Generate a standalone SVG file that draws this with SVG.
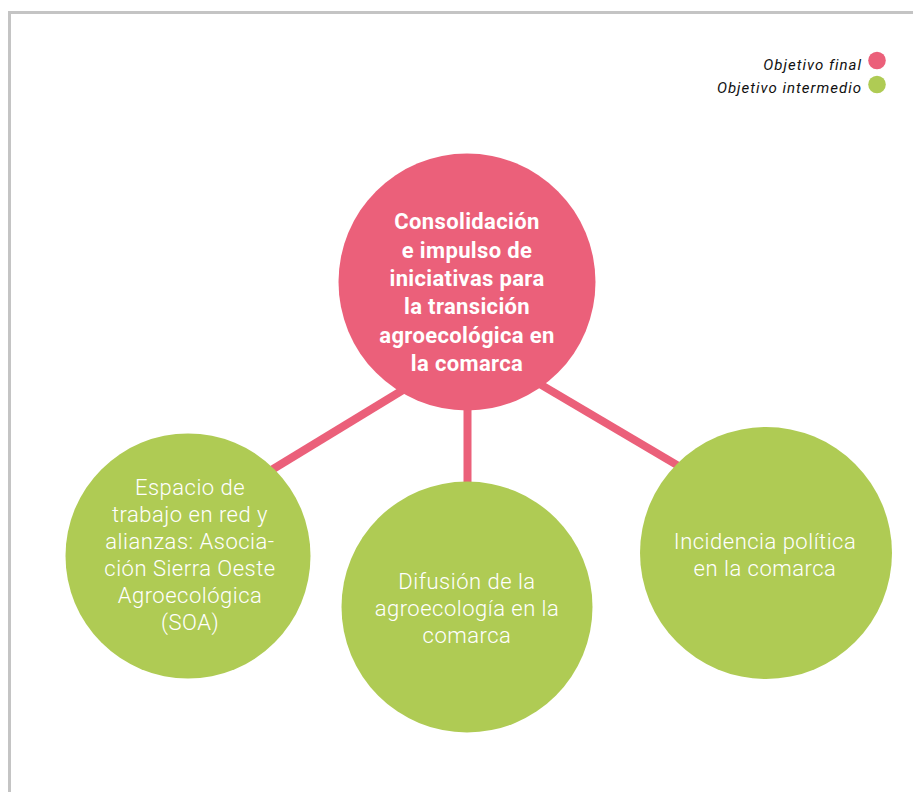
<svg xmlns="http://www.w3.org/2000/svg" width="913" height="792" viewBox="0 0 913 792">
<style>
.frame{fill:none;stroke:#c4c4c4;stroke-width:3}
.pink{fill:#eb607a}
.green{fill:#afcb54}
.conn{stroke:#eb607a;stroke-width:8;fill:none}
.leg{font-family:Roboto,"Liberation Sans",sans-serif;font-style:italic;font-size:15px;letter-spacing:1px;fill:#111;text-anchor:end}
.tb{font-family:Roboto,"Liberation Sans",sans-serif;font-weight:700;font-size:22px;letter-spacing:0.35px;fill:#fff;text-anchor:middle}
.tl{font-family:Roboto,"Liberation Sans",sans-serif;font-weight:300;font-size:22px;letter-spacing:0.5px;fill:#fff;text-anchor:middle}
</style>
<rect width="913" height="792" fill="#fff"/>
<path class="frame" d="M9.5,792 V12.5 H913"/>
<g id="legend">
<text class="leg" x="862" y="70">Objetivo final</text>
<circle class="pink" cx="877" cy="60.5" r="8.8"/>
<text class="leg" x="862" y="93">Objetivo intermedio</text>
<circle class="green" cx="877" cy="84.5" r="8.8"/>
</g>
<g id="connectors">
<line class="conn" x1="260" y1="477" x2="430" y2="373.5"/>
<line class="conn" x1="467.5" y1="380" x2="467.5" y2="500"/>
<line class="conn" x1="520" y1="372.4" x2="700" y2="478.6"/>
</g>
<g id="final">
<circle class="pink" cx="467" cy="282" r="128.5"/>
<text class="tb" x="467" y="229">Consolidación</text>
<text class="tb" x="467" y="257.5">e impulso de</text>
<text class="tb" x="467" y="286">iniciativas para</text>
<text class="tb" x="467" y="314">la transición</text>
<text class="tb" x="467" y="342.5">agroecológica en</text>
<text class="tb" x="467" y="371">la comarca</text>
</g>
<g id="espacio">
<circle class="green" cx="188" cy="556" r="122.5"/>
<text class="tl" x="190" y="495">Espacio de</text>
<text class="tl" x="190" y="522">trabajo en red y</text>
<text class="tl" x="190" y="549">alianzas: Asocia-</text>
<text class="tl" x="190" y="576">ción Sierra Oeste</text>
<text class="tl" x="190" y="603">Agroecológica</text>
<text class="tl" x="190" y="630">(SOA)</text>
</g>
<g id="difusion">
<circle class="green" cx="467" cy="607" r="125.5"/>
<text class="tl" x="467" y="589">Difusión de la</text>
<text class="tl" x="467" y="616">agroecología en la</text>
<text class="tl" x="467" y="643">comarca</text>
</g>
<g id="incidencia">
<circle class="green" cx="766" cy="553" r="126"/>
<text class="tl" x="765" y="549">Incidencia política</text>
<text class="tl" x="765" y="576">en la comarca</text>
</g>
</svg>
